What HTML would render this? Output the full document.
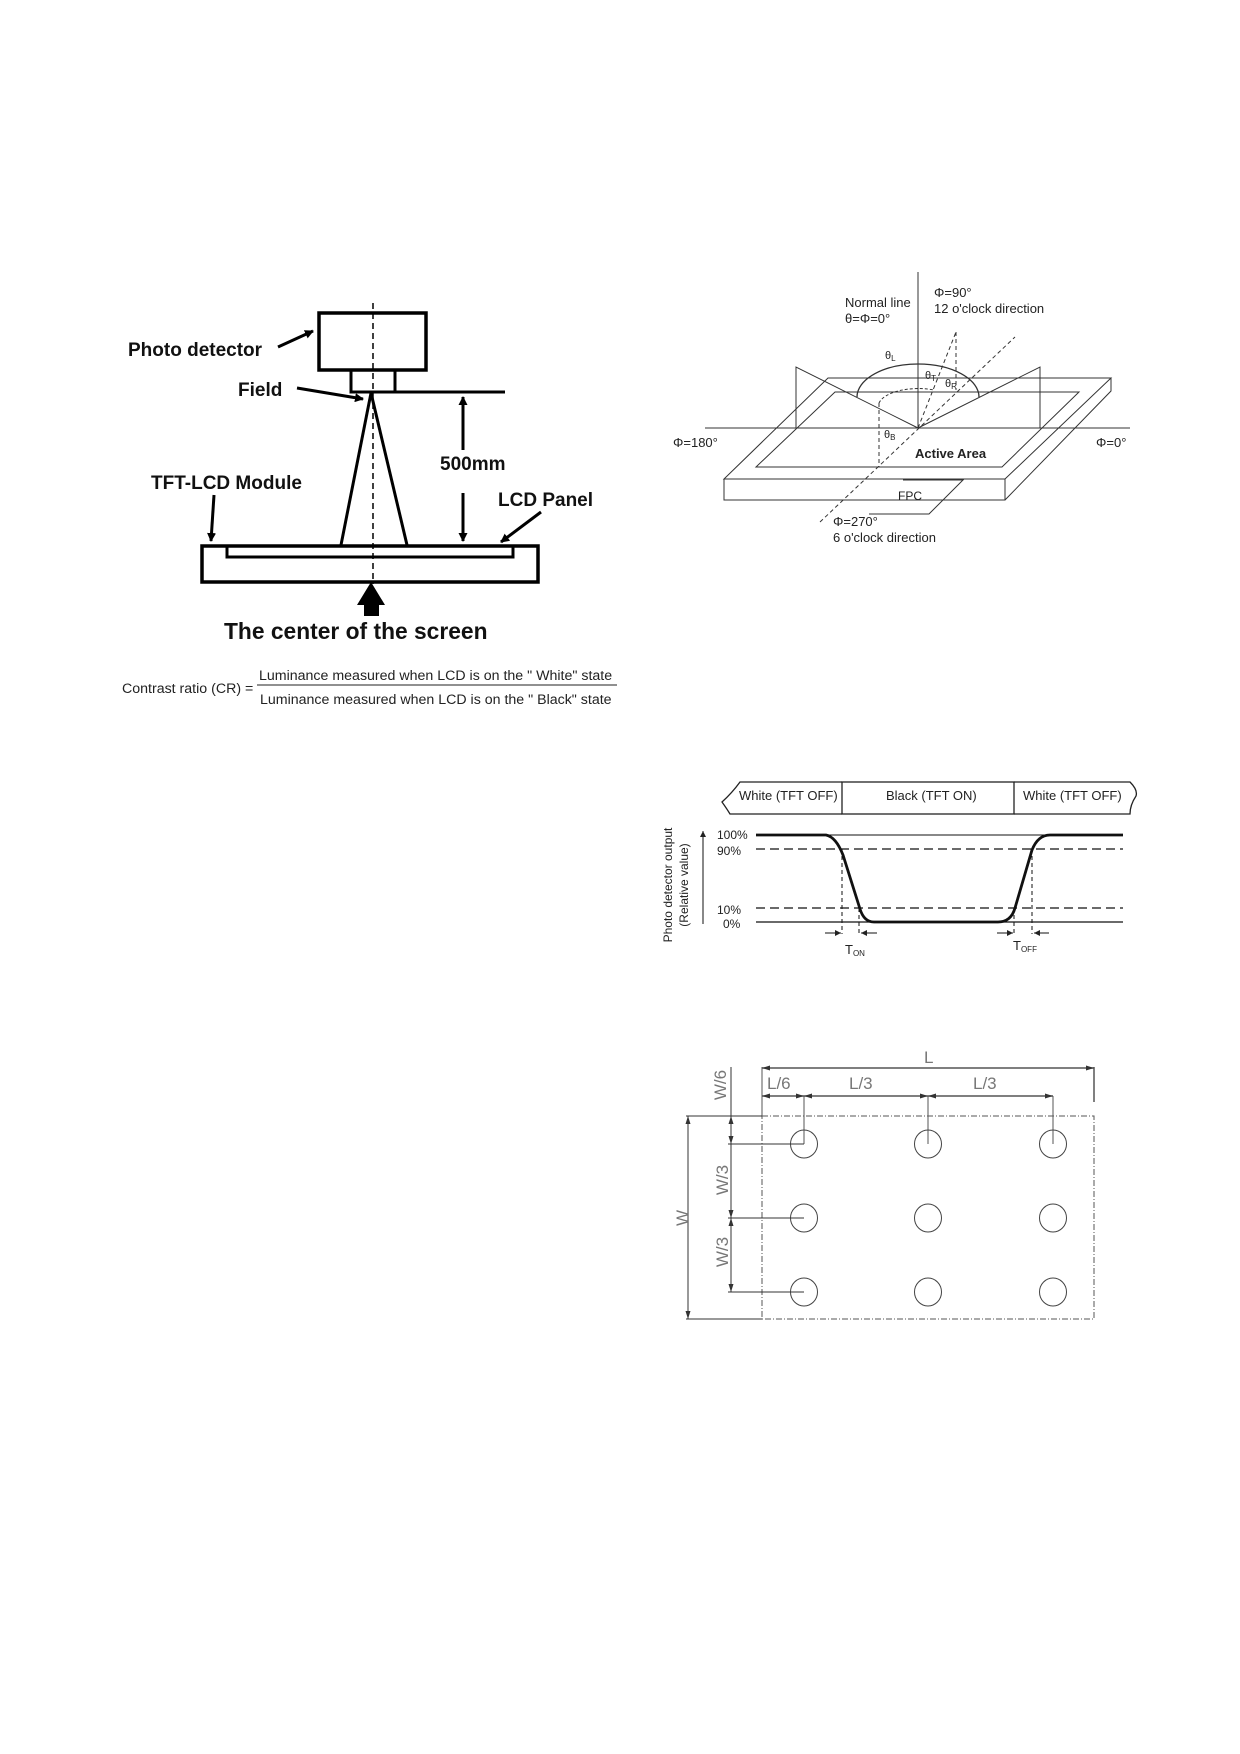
<!DOCTYPE html>
<html><head><meta charset="utf-8"><style>
html,body{margin:0;padding:0;background:#fff;}
svg{display:block;}
text{font-family:"Liberation Sans",sans-serif;}
</style></head><body>
<svg width="1240" height="1754" viewBox="0 0 1240 1754" xmlns="http://www.w3.org/2000/svg">
<defs>
<marker id="ah" markerWidth="9" markerHeight="9" refX="8" refY="4.5" orient="auto" markerUnits="userSpaceOnUse"><path d="M0,0 L9,4.5 L0,9 z" fill="#000"/></marker>
<marker id="ahs" markerWidth="6" markerHeight="6" refX="6" refY="3" orient="auto" markerUnits="userSpaceOnUse"><path d="M0,0 L6,3 L0,6 z" fill="#222"/></marker>
</defs>

<!-- ===== Diagram 1 ===== -->
<g stroke="#000" fill="none">
<rect x="319" y="313" width="107" height="57" stroke-width="3.5"/>
<rect x="351" y="370" width="44" height="22" stroke-width="3"/>
<line x1="395" y1="392" x2="505" y2="392" stroke-width="3"/>
<line x1="373" y1="303" x2="373" y2="584" stroke-width="1.5" stroke-dasharray="6,4"/>
<line x1="371" y1="393" x2="341" y2="545" stroke-width="3"/>
<line x1="371" y1="393" x2="407" y2="545" stroke-width="3"/>
<line x1="463" y1="450" x2="463" y2="397" stroke-width="3" marker-end="url(#ah)"/>
<line x1="463" y1="493" x2="463" y2="541" stroke-width="3" marker-end="url(#ah)"/>
<rect x="202" y="546" width="336" height="36" stroke-width="3.5"/>
<rect x="227" y="546" width="286" height="11" stroke-width="3"/>
<line x1="278" y1="347" x2="313" y2="331" stroke-width="3" marker-end="url(#ah)"/>
<line x1="297" y1="388" x2="363" y2="399" stroke-width="3" marker-end="url(#ah)"/>
<line x1="214" y1="495" x2="211" y2="541" stroke-width="3" marker-end="url(#ah)"/>
<line x1="541" y1="512" x2="501" y2="542" stroke-width="3" marker-end="url(#ah)"/>
</g>
<path d="M371,582 L385,605 L379,605 L379,616 L364,616 L364,605 L357,605 z" fill="#000"/>
<g font-weight="bold" fill="#111">
<text x="128" y="356" font-size="19">Photo detector</text>
<text x="238" y="396" font-size="19">Field</text>
<text x="440" y="470" font-size="19">500mm</text>
<text x="151" y="489" font-size="19">TFT-LCD Module</text>
<text x="498" y="506" font-size="19">LCD Panel</text>
<text x="224" y="639" font-size="22.8">The center of the screen</text>
</g>
<g fill="#222" font-size="14.2">
<text x="122" y="693">Contrast ratio (CR) =</text>
<text x="259" y="680">Luminance measured when LCD is on the " White" state</text>
<line x1="257" y1="685" x2="617" y2="685" stroke="#222" stroke-width="1"/>
<text x="260" y="704">Luminance measured when LCD is on the " Black" state</text>
</g>

<!-- ===== Diagram 2 ===== -->
<g stroke="#333" fill="none" stroke-width="1">
<line x1="918" y1="272" x2="918" y2="428"/>
<line x1="705" y1="428" x2="1130" y2="428"/>
<path d="M828,378 L1111,378 L1005,479 L724,479 z"/>
<path d="M724,479 L724,500 L1005,500 L1005,479"/>
<path d="M1111,378 L1111,391 L1005,500"/>
<path d="M835,392 L1079,392 L1002,467 L756,467 z"/>
<path d="M903,480 L963,480 L929,514 L869,514"/>
<path d="M796,428 L796,367 L918,428"/>
<path d="M1040,428 L1040,367 L918,428"/>
<path d="M857,397 A61,33 0 0 1 979,397" stroke-width="1.3"/>
<path d="M879,403 A40,18 0 0 1 934,390" stroke-dasharray="3,2"/>
<line x1="879" y1="403" x2="879" y2="467" stroke-dasharray="4,3"/>
<line x1="820" y1="522" x2="1015" y2="337" stroke-dasharray="4,3"/>
<line x1="918" y1="428" x2="956" y2="332" stroke-dasharray="4,3"/>
<line x1="956" y1="332" x2="956" y2="390" stroke-dasharray="4,3"/>
</g>
<g fill="#222" font-size="13">
<text x="845" y="307">Normal line</text>
<text x="845" y="323">θ=Φ=0°</text>
<text x="934" y="297">Φ=90°</text>
<text x="934" y="313">12 o'clock direction</text>
<text x="885" y="359" font-size="11">θ<tspan font-size="8" dy="2">L</tspan></text>
<text x="925" y="379" font-size="11">θ<tspan font-size="8" dy="2">T</tspan></text>
<text x="945" y="387" font-size="11">θ<tspan font-size="8" dy="2">R</tspan></text>
<text x="884" y="438" font-size="11">θ<tspan font-size="8" dy="2">B</tspan></text>
<text x="673" y="447">Φ=180°</text>
<text x="1096" y="447">Φ=0°</text>
<text x="915" y="458" font-weight="bold">Active Area</text>
<text x="898" y="500" font-size="12">FPC</text>
<text x="833" y="526">Φ=270°</text>
<text x="833" y="542">6 o'clock direction</text>
</g>

<g transform="translate(0,-6)">
<!-- ===== Diagram 3 ===== -->
<g stroke="#222" fill="none" stroke-width="1.3">
<path d="M842,788 L740,788 Q732,799 722,808 Q727,815 730,820 L842,820"/>
<rect x="842" y="788" width="172" height="32"/>
<path d="M1014,788 L1130,788 Q1138,796 1136,802 Q1130,811 1130,820 L1014,820"/>
</g>
<g fill="#222" font-size="13">
<text x="739" y="806">White (TFT OFF)</text>
<text x="886" y="806">Black (TFT ON)</text>
<text x="1023" y="806">White (TFT OFF)</text>
</g>
<g stroke="#111" fill="none">
<line x1="756" y1="841" x2="1123" y2="841" stroke-width="1"/>
<line x1="756" y1="928" x2="1123" y2="928" stroke-width="1.2"/>
<line x1="756" y1="855" x2="1123" y2="855" stroke-width="1.2" stroke-dasharray="9,5"/>
<line x1="756" y1="914" x2="1123" y2="914" stroke-width="1.2" stroke-dasharray="9,5"/>
<path d="M756,841 L826,841 Q836,843 843,861 L860,915 Q864,928 874,928 L998,928 Q1011,928 1015,914 L1032,856 Q1038,841 1050,841 L1123,841" stroke-width="2.8"/>
<g stroke-dasharray="4,3" stroke-width="1">
<line x1="842" y1="855" x2="842" y2="940"/><line x1="859" y1="914" x2="859" y2="940"/>
<line x1="1014" y1="914" x2="1014" y2="940"/><line x1="1032" y1="855" x2="1032" y2="940"/>
</g>
<g stroke-width="1">
<line x1="825" y1="939" x2="841" y2="939" marker-end="url(#ahs)"/>
<line x1="877" y1="939" x2="861" y2="939" marker-end="url(#ahs)"/>
<line x1="997" y1="939" x2="1013" y2="939" marker-end="url(#ahs)"/>
<line x1="1049" y1="939" x2="1034" y2="939" marker-end="url(#ahs)"/>
<line x1="703" y1="930" x2="703" y2="837" marker-end="url(#ahs)"/>
</g>
</g>
<g fill="#222" font-size="12">
<text x="717" y="845">100%</text>
<text x="717" y="861">90%</text>
<text x="717" y="920">10%</text>
<text x="723" y="934">0%</text>
<text x="845" y="960" font-size="13">T<tspan font-size="8" dy="2">ON</tspan></text>
<text x="1013" y="956" font-size="13">T<tspan font-size="8" dy="2">OFF</tspan></text>
<text transform="translate(672,891) rotate(-90)" text-anchor="middle">Photo detector output</text>
<text transform="translate(688,891) rotate(-90)" text-anchor="middle">(Relative value)</text>
</g>

<!-- ===== Diagram 4 ===== -->
<g stroke="#555" fill="none" stroke-width="1">
<rect x="762" y="1122" width="332" height="203" stroke-dasharray="6,2,1,2"/>
<line x1="762" y1="1074" x2="1094" y2="1074" stroke-width="1.4"/>
<line x1="762" y1="1073" x2="762" y2="1122"/>
<line x1="1094" y1="1073" x2="1094" y2="1108" stroke-width="1.5"/>
<line x1="762" y1="1102" x2="1053" y2="1102" stroke-width="1.4"/>
<line x1="804" y1="1102" x2="804" y2="1150"/>
<line x1="928" y1="1102" x2="928" y2="1150"/>
<line x1="1053" y1="1102" x2="1053" y2="1150"/>
<g stroke="#444">
<ellipse cx="804" cy="1150" rx="13.5" ry="14"/><ellipse cx="928" cy="1150" rx="13.5" ry="14"/><ellipse cx="1053" cy="1150" rx="13.5" ry="14"/>
<ellipse cx="804" cy="1224" rx="13.5" ry="14"/><ellipse cx="928" cy="1224" rx="13.5" ry="14"/><ellipse cx="1053" cy="1224" rx="13.5" ry="14"/>
<ellipse cx="804" cy="1298" rx="13.5" ry="14"/><ellipse cx="928" cy="1298" rx="13.5" ry="14"/><ellipse cx="1053" cy="1298" rx="13.5" ry="14"/>
</g>
<line x1="688" y1="1122" x2="688" y2="1325" stroke="#333"/>
<line x1="686" y1="1122" x2="762" y2="1122" stroke="#333"/>
<line x1="686" y1="1325" x2="762" y2="1325" stroke="#333"/>
<line x1="731" y1="1073" x2="731" y2="1298" stroke="#333"/>
<line x1="728" y1="1150" x2="804" y2="1150" stroke="#333"/>
<line x1="728" y1="1224" x2="804" y2="1224" stroke="#333"/>
<line x1="728" y1="1298" x2="804" y2="1298" stroke="#333"/>
</g>
<g fill="#333">
<path d="M762,1074 l8,-2.5 v5 z M1094,1074 l-8,-2.5 v5 z"/>
<path d="M762,1102 l8,-2.5 v5 z M804,1102 l-8,-2.5 v5 z M804,1102 l8,-2.5 v5 z M928,1102 l-8,-2.5 v5 z M928,1102 l8,-2.5 v5 z M1053,1102 l-8,-2.5 v5 z"/>
<path d="M688,1122 l-2.5,8 h5 z M688,1325 l-2.5,-8 h5 z"/>
<path d="M731,1122 l-2.5,8 h5 z M731,1150 l-2.5,-8 h5 z M731,1224 l-2.5,-8 h5 z M731,1224 l-2.5,8 h5 z M731,1298 l-2.5,-8 h5 z"/>
</g>
<g fill="#777" font-size="17">
<text x="924" y="1069">L</text>
<text x="767" y="1095">L/6</text>
<text x="849" y="1095">L/3</text>
<text x="973" y="1095">L/3</text>
<text transform="translate(726,1091) rotate(-90)" text-anchor="middle">W/6</text>
<text transform="translate(728,1186) rotate(-90)" text-anchor="middle">W/3</text>
<text transform="translate(728,1258) rotate(-90)" text-anchor="middle">W/3</text>
<text transform="translate(688,1224) rotate(-90)" text-anchor="middle">W</text>
</g>
</g>
</svg>
</body></html>
